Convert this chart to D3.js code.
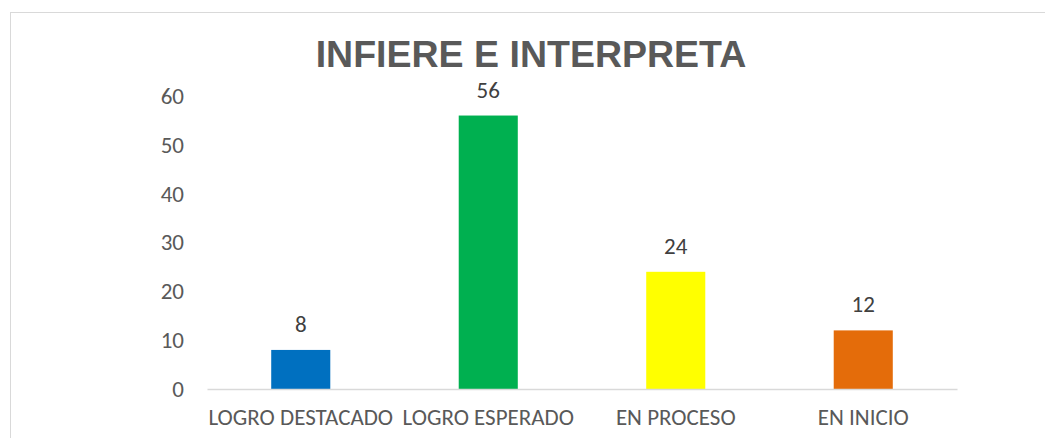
<!DOCTYPE html>
<html>
<head>
<meta charset="utf-8">
<script src="https://cdn.jsdelivr.net/npm/d3@7"></script>
<style>
  body { margin: 0; background: #fff; }
  svg { display: block; }
</style>
</head>
<body>
<svg id="chart" width="1045" height="438"></svg>
<script>
// data
const categories = ["LOGRO DESTACADO", "LOGRO ESPERADO", "EN PROCESO", "EN INICIO"];
const values = [8, 56, 24, 12];
const colors = ["#0070C0", "#00B050", "#FFFF00", "#E46C0A"];
const yTicks = [0, 10, 20, 30, 40, 50, 60];

var svg = d3.select("#chart"),
  width = +svg.attr("width"),
  height = +svg.attr("height");

const margin = { top: 96, right: 88, bottom: 49, left: 207 };
const textFont = "Carlito, 'Open Sans', 'Liberation Sans', sans-serif";
const textSize = "23px";

// outer chart frame (only left and top edges are in view)
svg.append("rect")
  .attr("x", 10.5).attr("y", 12.5)
  .attr("width", 1100).attr("height", 500)
  .attr("fill", "none")
  .attr("stroke", "#d9d9d9")
  .attr("stroke-width", 1);

var x = d3.scaleBand()
  .domain(categories)
  .range([margin.left, width - margin.right])
  .padding(0);

var y = d3.scaleLinear()
  .domain([0, 60])
  .range([height - margin.bottom, margin.top]);

const barW = x.bandwidth() * 0.315;

// title
svg.append("text")
  .attr("x", 531)
  .attr("y", 67)
  .attr("text-anchor", "middle")
  .attr("font-family", "'Liberation Sans', Arial, sans-serif")
  .attr("font-weight", "bold")
  .attr("font-size", "37.5px")
  .attr("fill", "#595959")
  .text("INFIERE E INTERPRETA");

// y axis labels
var yAxis = svg.append("g")
  .attr("transform", "translate(" + (margin.left - 23) + ",0)")
  .call(d3.axisLeft(y).tickValues(yTicks).tickSize(0).tickPadding(0));
yAxis.select(".domain").remove();
yAxis.selectAll("text")
  .attr("font-family", textFont)
  .attr("font-size", textSize)
  .attr("fill", "#595959");

// bars
svg.append("g")
  .selectAll("rect")
  .data(values)
  .enter()
  .append("rect")
  .attr("x", (d, i) => x(categories[i]) + x.bandwidth() / 2 - barW / 2)
  .attr("y", (d) => y(d))
  .attr("width", barW)
  .attr("height", (d) => y(0) - y(d))
  .attr("fill", (d, i) => colors[i]);

// baseline
var xAxis = svg.append("g")
  .attr("transform", "translate(0," + y(0) + ")")
  .call(d3.axisBottom(x).tickSize(0).tickPadding(20));
xAxis.select(".domain")
  .attr("stroke", "#d9d9d9")
  .attr("stroke-width", 1.5);
xAxis.selectAll("text")
  .attr("font-family", textFont)
  .attr("font-size", textSize)
  .attr("fill", "#595959");

// data labels
svg.append("g")
  .selectAll("text")
  .data(values)
  .enter()
  .append("text")
  .attr("x", (d, i) => x(categories[i]) + x.bandwidth() / 2)
  .attr("y", (d) => y(d) - 18)
  .attr("text-anchor", "middle")
  .attr("font-family", textFont)
  .attr("font-size", textSize)
  .attr("fill", "#404040")
  .text((d) => d);
</script>
</body>
</html>
